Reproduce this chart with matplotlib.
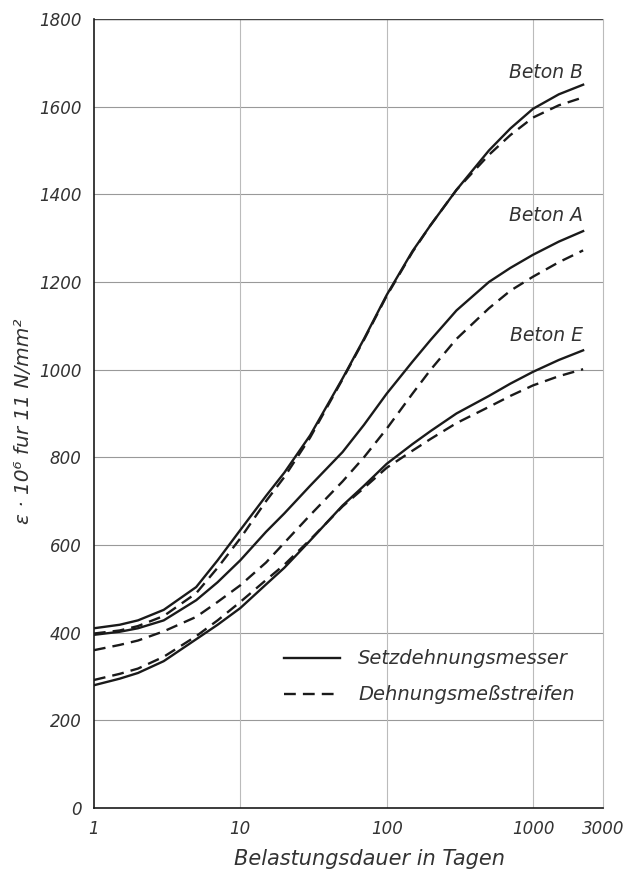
import matplotlib
matplotlib.use("Agg")
import matplotlib.pyplot as plt

# Belastungsdauer in Tagen (read points along the curves)
days = [1, 1.5, 2, 3, 5, 7, 10, 15, 20, 30, 50, 70, 100, 150, 200, 300, 500, 700, 1000, 1500, 2200]

# eps * 10^6 for 11 N/mm2
b_setz = [410, 418, 428, 452, 504, 565, 634, 712, 765, 850, 980, 1070, 1170, 1270, 1330, 1410, 1500, 1550, 1595, 1628, 1650]
b_dms = [398, 405, 415, 438, 490, 548, 615, 700, 755, 845, 978, 1068, 1168, 1268, 1330, 1410, 1490, 1535, 1575, 1603, 1621]
a_setz = [395, 402, 410, 428, 474, 515, 565, 630, 672, 735, 812, 874, 945, 1018, 1068, 1135, 1200, 1232, 1262, 1292, 1316]
a_dms = [360, 372, 382, 403, 436, 470, 508, 560, 605, 668, 745, 800, 865, 945, 1000, 1070, 1140, 1180, 1212, 1245, 1272]
e_setz = [280, 295, 308, 335, 385, 418, 456, 510, 548, 610, 690, 735, 785, 830, 860, 900, 940, 968, 995, 1022, 1044]
e_dms = [292, 306, 318, 345, 392, 428, 470, 520, 555, 612, 688, 730, 776, 815, 842, 878, 915, 940, 964, 985, 1001]

curve_names = ["Beton B", "Beton A", "Beton E"]
label_y = [1678, 1352, 1078]

x_ticks = [1, 10, 100, 1000, 3000]
x_ticklabels = ["1", "10", "100", "1000", "3000"]
y_ticks = list(range(0, 1801, 200))

ink = "#1a1a1a"
txt = "#333333"
plt.rcParams["font.family"] = ["DejaVu Sans"]
plt.rcParams["font.style"] = "italic"

fig = plt.figure(figsize=(6.26, 8.69), dpi=100)
ax = fig.add_axes([0.150, 0.0702, 0.813, 0.908])

ax.set_xscale("log")
ax.set_xlim(1, 3000)
ax.set_ylim(0, 1800)

# grid
for yv in y_ticks[1:]:
    ax.axhline(yv, color="#999999", lw=0.8, zorder=1)
for xv in x_ticks[1:-1]:
    ax.axvline(xv, color="#bbbbbb", lw=0.8, zorder=1)
ax.axhline(1800, color="#444444", lw=1.0, zorder=1)

pairs = [(b_setz, b_dms), (a_setz, a_dms), (e_setz, e_dms)]
for (solid, dashed), name, ly in zip(pairs, curve_names, label_y):
    ax.plot(days, solid, color=ink, lw=1.7, zorder=3)
    ax.plot(days, dashed, color=ink, lw=1.7, dashes=(5, 3), zorder=3)
    ax.text(days[-1], ly, name, ha="right", va="center", fontsize=13.5, color=txt)

# legend drawn by hand inside the plot
ax.plot([20, 48], [342, 342], color=ink, lw=1.7, zorder=3)
ax.plot([20, 48], [260, 260], color=ink, lw=1.7, dashes=(5, 3), zorder=3)
ax.text(64, 342, "Setzdehnungsmesser", va="center", fontsize=14, color=txt)
ax.text(64, 260, "Dehnungsmeßstreifen", va="center", fontsize=14, color=txt)

ax.set_xticks(x_ticks)
ax.set_xticklabels(x_ticklabels)
ax.minorticks_off()
ax.set_yticks(y_ticks)
ax.tick_params(length=0, labelsize=12, pad=9, colors=txt)

ax.spines["top"].set_visible(False)
ax.spines["right"].set_color("#bbbbbb")
ax.spines["left"].set_color(ink)
ax.spines["bottom"].set_color(ink)
ax.spines["left"].set_linewidth(1.2)
ax.spines["bottom"].set_linewidth(1.2)

ax.set_xlabel("Belastungsdauer in Tagen", fontsize=15, color=txt, labelpad=6)
ax.xaxis.set_label_coords(0.542, -0.052)
ax.set_ylabel("ε · 10⁶ fur 11 N/mm²", fontsize=14.5, color=txt)
ax.yaxis.set_label_coords(-0.12, 0.49)

fig.savefig("out.png", dpi=100)
